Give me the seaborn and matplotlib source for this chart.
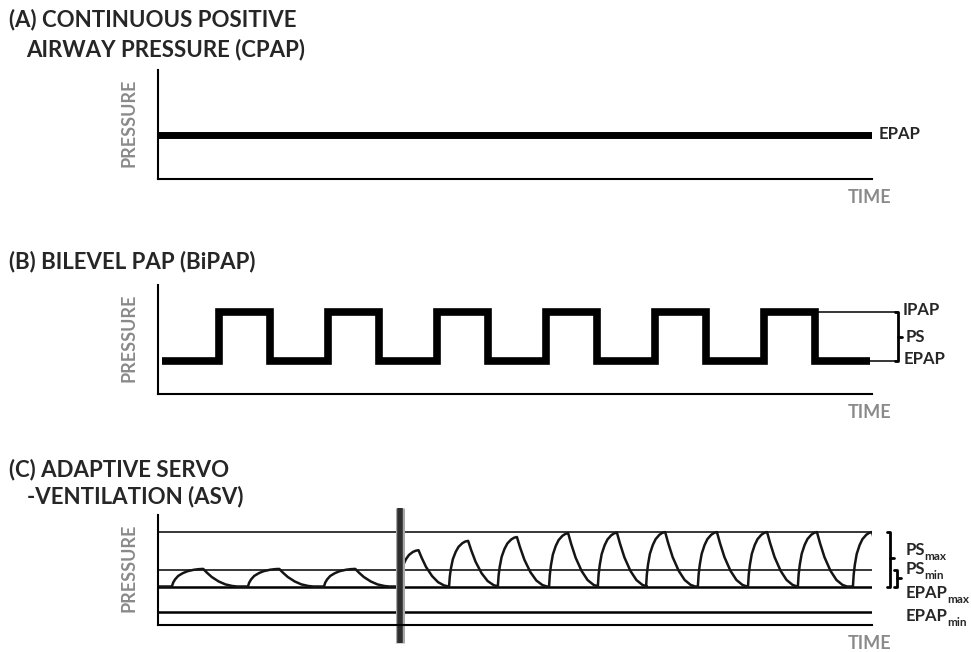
import matplotlib
matplotlib.use("Agg")
import matplotlib.pyplot as plt
import seaborn as sns
import numpy as np
import pandas as pd

# ---- data (time in s, pressure in cmH2O) ----
time_end = 26.2
cpap_epap = 8

bipap_epap = 6
bipap_ipap = 15
bipap_start = 0.15
bipap_stop = 26.13
bipap_rise = [2.24, 6.24, 10.24, 14.24, 18.24, 22.24]
bipap_fall = [4.11, 8.11, 12.11, 16.11, 20.11, 24.11]

asv_epap_min = 2.4
asv_epap_max = 7.0
asv_ps_min_level = 10.0
asv_ps_max_level = 16.9
asv_switch = 8.89

# small breaths before the switch
small_start = [0.51, 3.30, 6.09]
small_peak = [10.2, 10.2, 10.2]
small_rise, small_fall = 1.15, 1.25
# servo breaths after the switch
big_start = [8.86, 10.68, 12.47, 14.35, 16.14, 17.91, 19.81, 21.65, 23.48, 25.50]
big_peak = [13.6, 15.3, 16.0, 16.7, 16.8, 16.9, 16.9, 16.9, 16.9, 16.9]
big_rise, big_fall = 0.70, 1.10

# one breath shape (fraction of rise/fall time, fraction of height)
rise_t = [0.0, 0.04, 0.1, 0.2, 0.35, 0.5, 0.7, 0.85, 1.0]
rise_h = [0.0, 0.22, 0.4, 0.6, 0.76, 0.87, 0.95, 0.985, 1.0]
fall_t = [0.0, 0.1, 0.25, 0.45, 0.65, 0.85, 1.0]
fall_h = [1.0, 0.8, 0.54, 0.29, 0.12, 0.03, 0.0]


def square_wave():
    t = [bipap_start]
    p = [bipap_epap]
    for r, f in zip(bipap_rise, bipap_fall):
        t += [r, r, f, f]
        p += [bipap_epap, bipap_ipap, bipap_ipap, bipap_epap]
    t.append(bipap_stop)
    p.append(bipap_epap)
    return pd.DataFrame({'time': t, 'pressure': p})


def asv_trace():
    t = [0.0]
    p = [asv_epap_max]
    cycles = [(s, pk, small_rise, small_fall) for s, pk in zip(small_start, small_peak)]
    cycles += [(s, pk, big_rise, big_fall) for s, pk in zip(big_start, big_peak)]
    for s, pk, rd, fd in cycles:
        amp = pk - asv_epap_max
        for rt, rh in zip(rise_t, rise_h):
            t.append(s + rt * rd)
            p.append(asv_epap_max + rh * amp)
        for ft, fh in zip(fall_t[1:], fall_h[1:]):
            t.append(s + rd + ft * fd)
            p.append(asv_epap_max + fh * amp)
    return pd.DataFrame({'time': t, 'pressure': p})


sns.set_theme(style='white')
plt.rcParams['font.family'] = ['Lato', 'DejaVu Sans']
plt.rcParams['font.weight'] = 'bold'

W, H = 971, 652
fig = plt.figure(figsize=(W / 100, H / 100), dpi=100)
GRAY = '#8a8a8a'


def make_axes(top_px, bottom_px):
    ax = fig.add_axes([158 / W, 1 - bottom_px / H, (872 - 158) / W, (bottom_px - top_px) / H])
    ax.set_xlim(0, time_end)
    ax.set_ylim(0, 20)
    sns.despine(ax=ax)
    for s in ['left', 'bottom']:
        ax.spines[s].set_color('black')
        ax.spines[s].set_linewidth(1.5)
    return ax


def finish_axes(ax):
    ax.set_xticks([])
    ax.set_yticks([])
    ax.set_ylabel('PRESSURE', color=GRAY, fontsize=13, fontweight='bold')
    ax.set_xlabel('TIME', color=GRAY, fontsize=13, fontweight='bold')
    ax.yaxis.set_label_coords(-0.029, 0.52)
    ax.xaxis.set_label_coords(0.997, -0.09)
    ax.xaxis.label.set_verticalalignment('top')


def title(x, y, txt, size=16):
    fig.text(x / W, 1 - y / H, txt, fontsize=size, fontweight='bold', va='center', ha='left')


# ---------------- (A) CPAP ----------------
axA = make_axes(70, 179)
cpap = pd.DataFrame({'time': [0, time_end], 'pressure': [cpap_epap, cpap_epap]})
sns.lineplot(data=cpap, x='time', y='pressure', ax=axA, color='black', lw=5,
             estimator=None, sort=False, solid_capstyle='butt')
finish_axes(axA)
axA.text(26.46, cpap_epap + 0.2, 'EPAP', fontsize=12, fontweight='bold', va='center', ha='left')
title(9, 20, '(A) CONTINUOUS POSITIVE')
title(26, 50, 'AIRWAY PRESSURE (CPAP)')

# ---------------- (B) BiPAP ----------------
axB = make_axes(285, 394)
sns.lineplot(data=square_wave(), x='time', y='pressure', ax=axB, color='black', lw=5.5,
             estimator=None, sort=False, solid_capstyle='butt', solid_joinstyle='miter')
finish_axes(axB)
bx = 27.16
axB.plot([bipap_fall[-1], bx], [bipap_ipap, bipap_ipap], color='black', lw=1.1, clip_on=False)
axB.plot([bipap_stop, bx], [bipap_epap, bipap_epap], color='black', lw=1.1, clip_on=False)
axB.plot([bx - 0.1, bx, bx, bx - 0.1], [bipap_ipap, bipap_ipap, bipap_epap, bipap_epap],
         color='black', lw=2, clip_on=False)
mid = (bipap_ipap + bipap_epap) / 2
axB.plot([bx, bx + 0.15], [mid, mid], color='black', lw=2, clip_on=False)
axB.text(27.32, bipap_ipap + 0.4, 'IPAP', fontsize=12, fontweight='bold', va='center')
axB.text(27.42, mid, 'PS', fontsize=12, fontweight='bold', va='center')
axB.text(27.36, bipap_epap + 0.4, 'EPAP', fontsize=12, fontweight='bold', va='center')
title(9, 262, '(B) BILEVEL PAP (BiPAP)')

# ---------------- (C) ASV ----------------
axC = make_axes(515, 625)
for lvl, lw in [(asv_ps_max_level, 1.1), (asv_ps_min_level, 1.1),
                (asv_epap_max, 1.8), (asv_epap_min, 1.8)]:
    axC.axhline(lvl, color='black', lw=lw)
sns.lineplot(data=asv_trace(), x='time', y='pressure', ax=axC, color='#151515', lw=1.8,
             estimator=None, sort=False)
axC.axvline(asv_switch, ymin=-0.164, ymax=1.064, color='#a8a8a8', lw=6.5, clip_on=False,
            solid_capstyle='butt')
axC.axvline(asv_switch, ymin=-0.164, ymax=1.064, color='#2e2e2e', lw=4, clip_on=False,
            solid_capstyle='butt')
finish_axes(axC)

# braces
cx = 26.86
axC.plot([cx - 0.1, cx, cx, cx - 0.1], [asv_ps_max_level, asv_ps_max_level, asv_epap_max, asv_epap_max],
         color='black', lw=2, clip_on=False)
axC.plot([cx, cx + 0.13], [12.2, 12.2], color='black', lw=2, clip_on=False)
sx = 27.12
axC.plot([sx - 0.1, sx, sx, sx - 0.1], [asv_ps_min_level, asv_ps_min_level, asv_epap_max, asv_epap_max],
         color='black', lw=2, clip_on=False)
axC.plot([sx, sx + 0.13], [8.5, 8.5], color='black', lw=2, clip_on=False)

for main, sub, y in [('PS', 'max', 13.6), ('PS', 'min', 10.2), ('EPAP', 'max', 5.8), ('EPAP', 'min', 1.6)]:
    t = axC.text(27.42, y, main, fontsize=12, fontweight='bold', va='center', ha='left')
    axC.annotate(sub, xy=(1, 0), xycoords=t, xytext=(0, -3), textcoords='offset points',
                 fontsize=8.5, fontweight='bold', va='bottom', ha='left')

title(9, 470, '(C) ADAPTIVE SERVO')
title(27, 497, '-VENTILATION (ASV)')

fig.savefig('out.png', dpi=100)
